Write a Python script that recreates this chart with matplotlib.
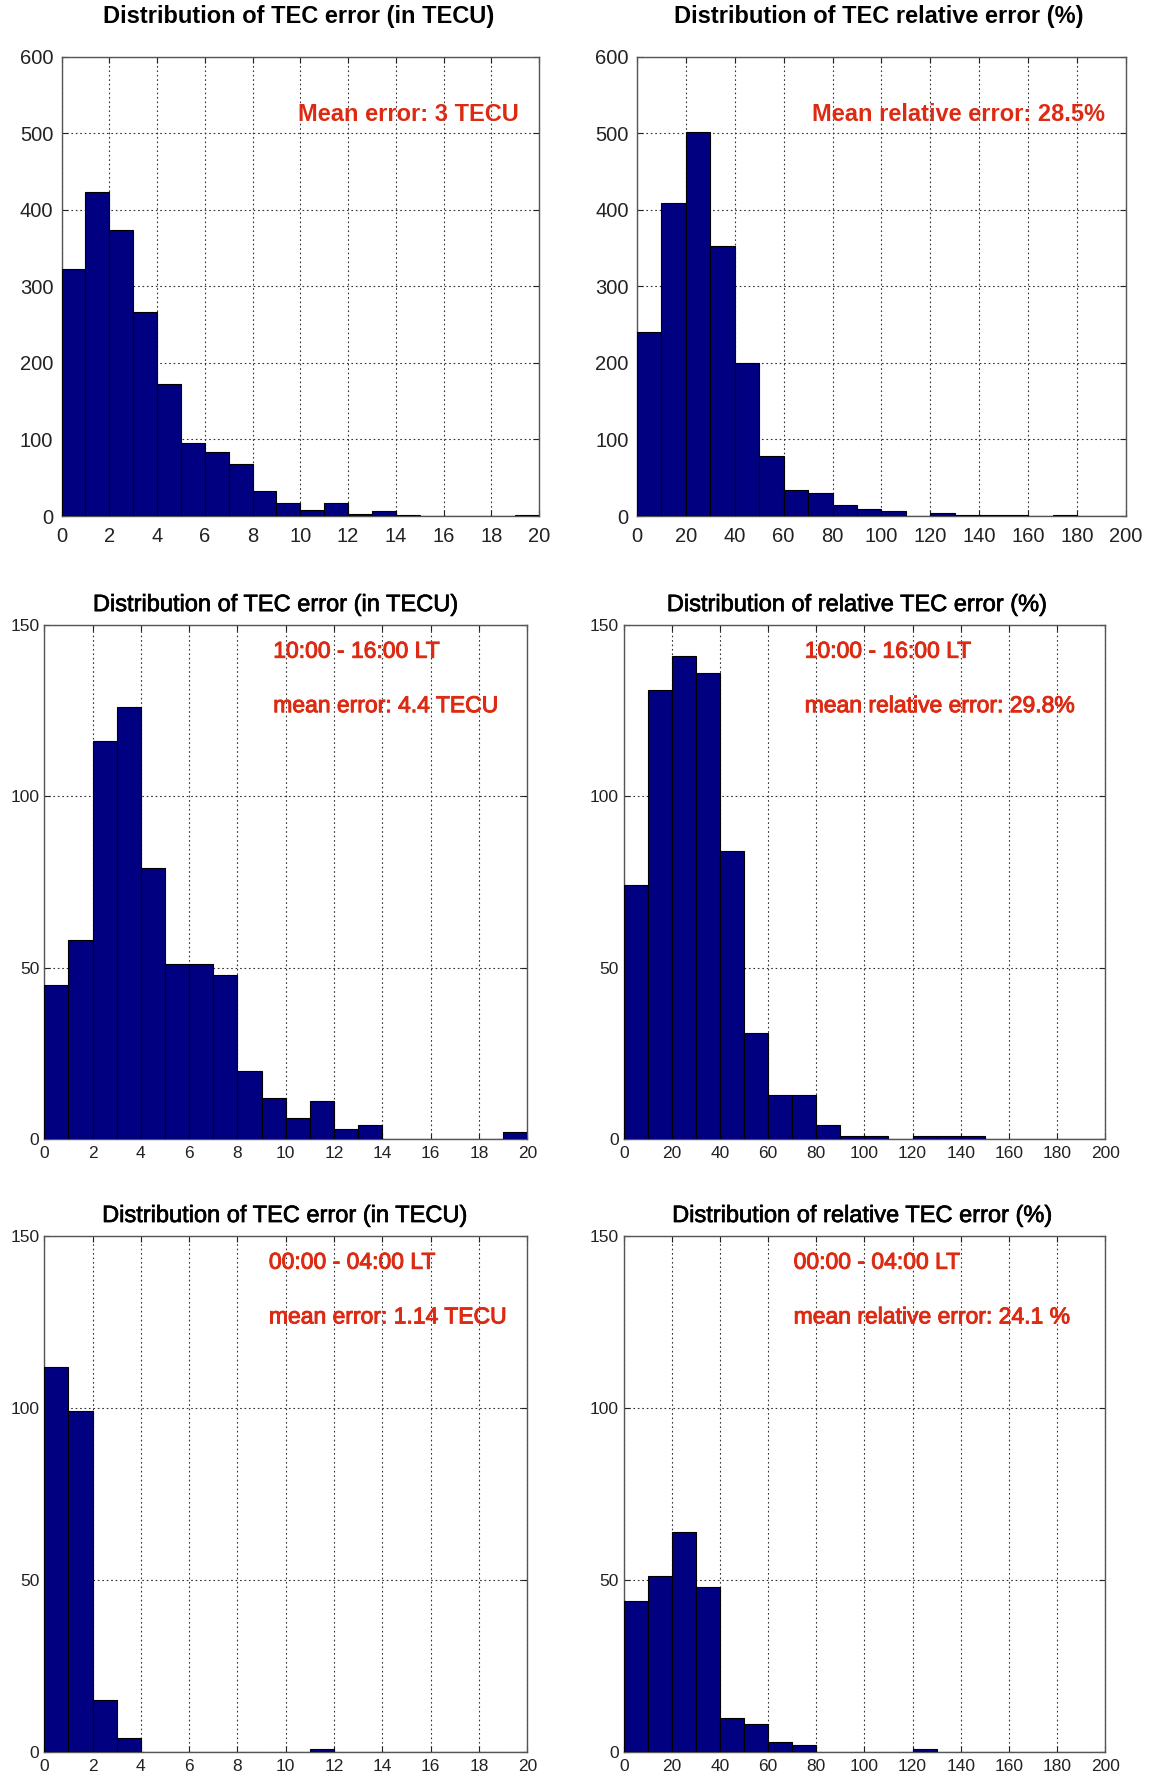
import numpy as np
import matplotlib
matplotlib.use("Agg")
import matplotlib.pyplot as plt
import matplotlib.patheffects as pe

NAVY = "#000080"
RED = "#dd2a12"
FONT = ["Liberation Sans", "DejaVu Sans"]

# histogram counts, one value per bin
tecu_edges = np.arange(0, 21, 1)
rel_edges = np.arange(0, 201, 10)

all_tecu = [323, 423, 374, 266, 172, 95, 83, 68, 33, 17, 8, 17, 3, 6, 2, 0, 0, 0, 0, 2]
all_rel = [240, 409, 501, 353, 200, 79, 34, 30, 15, 9, 7, 0, 4, 2, 1, 1, 0, 1, 0, 0]
day_tecu = [45, 58, 116, 126, 79, 51, 51, 48, 20, 12, 6, 11, 3, 4, 0, 0, 0, 0, 0, 2]
day_rel = [74, 131, 141, 136, 84, 31, 13, 13, 4, 1, 1, 0, 1, 1, 1, 0, 0, 0, 0, 0]
night_tecu = [112, 99, 15, 4, 0, 0, 0, 0, 0, 0, 0, 1, 0, 0, 0, 0, 0, 0, 0, 0]
night_rel = [44, 51, 64, 48, 10, 8, 3, 2, 0, 0, 0, 0, 1, 0, 0, 0, 0, 0, 0, 0]

titles = ["Distribution of TEC error (in TECU)", "Distribution of TEC relative error (%)",
          "Distribution of TEC error (in TECU)", "Distribution of relative TEC error (%)",
          "Distribution of TEC error (in TECU)", "Distribution of relative TEC error (%)"]
notes = [["Mean error: 3 TECU"], ["Mean relative error: 28.5%"],
         ["10:00 - 16:00 LT", "mean error: 4.4 TECU"],
         ["10:00 - 16:00 LT", "mean relative error: 29.8%"],
         ["00:00 - 04:00 LT", "mean error: 1.14 TECU"],
         ["00:00 - 04:00 LT", "mean relative error: 24.1 %"]]

fig = plt.figure(figsize=(11.51, 17.77), dpi=100)
fig.patch.set_facecolor("white")

# axes boxes in figure fractions [left, bottom, width, height]
boxes = [[0.0535, 0.7096, 0.4148, 0.2585], [0.5534, 0.7096, 0.4248, 0.2585],
         [0.0385, 0.3590, 0.4196, 0.2893], [0.5419, 0.3590, 0.4182, 0.2893],
         [0.0385, 0.0141, 0.4196, 0.2904], [0.5419, 0.0141, 0.4182, 0.2904]]
data = [all_tecu, all_rel, day_tecu, day_rel, night_tecu, night_rel]
title_x = [0.497, 0.495, 0.48, 0.486, 0.499, 0.497]
note_x = [0.495, 0.358, 0.474, 0.376, 0.465, 0.353]

# the lower rows look like a blurred medium weight: thicken regular glyphs a bit
thick_red = [pe.withStroke(linewidth=0.7, foreground=RED)]
thick_ink = [pe.withStroke(linewidth=0.5, foreground="black")]

for i, (box, counts) in enumerate(zip(boxes, data)):
    ax = fig.add_axes(box)
    top_row = i < 2
    edges = tecu_edges if i % 2 == 0 else rel_edges
    ax.bar(edges[:-1], counts, width=np.diff(edges), align="edge",
           color=NAVY, edgecolor="black", linewidth=0.8, zorder=3)
    ax.set_xlim(edges[0], edges[-1])
    ax.set_xticks(np.arange(edges[0], edges[-1] + 1, (edges[-1] - edges[0]) / 10))
    if top_row:
        ax.set_ylim(0, 600)
        ax.set_yticks(np.arange(0, 601, 100))
    else:
        ax.set_ylim(0, 150)
        ax.set_yticks([0, 50, 100, 150])
    ax.tick_params(direction="in", top=True, right=True, length=4, width=0.8,
                   labelsize=14.5 if top_row else 12.5, colors="#222222")
    ax.tick_params(axis="x", pad=8 if top_row else 5)
    ax.tick_params(axis="y", pad=6 if top_row else 3.5)
    for t in ax.get_xticklabels() + ax.get_yticklabels():
        t.set_family(FONT)
    ax.grid(True, color="#333333", linestyle=(0, (1.5, 2.5)), linewidth=0.8, zorder=1)
    for s in ax.spines.values():
        s.set_color("#555555")
        s.set_linewidth(1.0)
    if top_row:
        ax.set_title(titles[i], fontsize=17, fontweight="bold", family=FONT,
                     pad=24, x=title_x[i])
        ax.text(note_x[i], 0.875, notes[i][0], transform=ax.transAxes,
                fontsize=17, fontweight="bold", color=RED, family=FONT, va="center")
    else:
        ax.set_title(titles[i], fontsize=17, family=FONT, pad=10, x=title_x[i],
                     path_effects=thick_ink)
        ax.text(note_x[i], 0.949, notes[i][0], transform=ax.transAxes, fontsize=16.5,
                color=RED, family=FONT, va="center", path_effects=thick_red)
        ax.text(note_x[i], 0.843, notes[i][1], transform=ax.transAxes, fontsize=16.5,
                color=RED, family=FONT, va="center", path_effects=thick_red)

fig.savefig("out.png", dpi=100, facecolor="white")
